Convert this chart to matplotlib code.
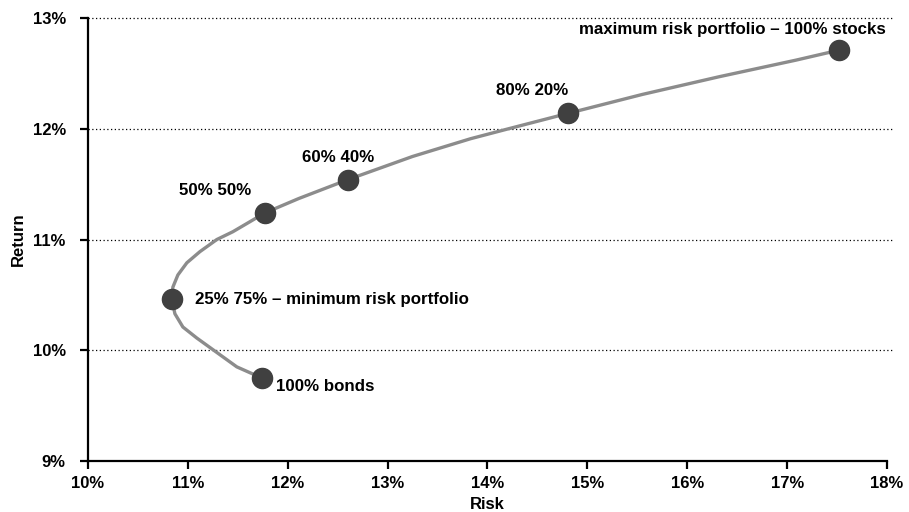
import matplotlib
matplotlib.use("Agg")
import matplotlib.pyplot as plt
from matplotlib.ticker import FuncFormatter

plt.rcParams["font.family"] = ["Liberation Sans", "DejaVu Sans"]
plt.rcParams["font.weight"] = "bold"

# efficient frontier curve (risk %, return %)
curve_risk = [11.74, 11.49, 11.29, 11.09, 10.95, 10.87, 10.84, 10.85, 10.90, 10.99, 11.12, 11.29,
              11.45, 11.62, 11.77, 12.11, 12.60, 13.25, 13.83, 14.21, 14.81, 15.55, 16.32,
              17.09, 17.52]
curve_ret = [9.75, 9.85, 9.98, 10.11, 10.21, 10.33, 10.46, 10.57, 10.68, 10.79, 10.89, 11.00,
             11.07, 11.16, 11.24, 11.37, 11.54, 11.75, 11.91, 12.00, 12.14, 12.31, 12.47,
             12.62, 12.71]

# labelled portfolios
pf_labels = ["100% bonds", "25% 75% \u2013 minimum risk portfolio", "50% 50%", "60% 40%",
             "80% 20%", "maximum risk portfolio \u2013 100% stocks"]
pf_risk = [11.74, 10.84, 11.77, 12.60, 14.81, 17.52]
pf_ret = [9.75, 10.46, 11.24, 11.54, 12.14, 12.71]

# label placement (offset in points, alignment)
offsets = [(10.5, -6), (16.5, 0), (-36, 16), (-7, 16), (-26, 16.5), (34, 14.5)]
aligns = ["left", "left", "center", "center", "center", "right"]

fig = plt.figure(figsize=(9.09, 5.12), dpi=100)
ax = fig.add_axes([0.0968, 0.0996, 0.879, 0.8652])

ax.set_xlim(10, 18)
ax.set_ylim(9, 13)
ax.set_xticks(range(10, 19))
ax.set_yticks(range(9, 14))
pct = FuncFormatter(lambda v, p: f"{v:.0f}%")
ax.xaxis.set_major_formatter(pct)
ax.yaxis.set_major_formatter(pct)

ax.hlines([10, 11, 12, 13], 10, 18.07, colors="black", linestyles=(0, (1, 2)),
          linewidth=0.9, zorder=1, clip_on=False)

ax.plot(curve_risk, curve_ret, color="#8c8c8c", linewidth=2.4, zorder=2,
        solid_capstyle="round", solid_joinstyle="round")
ax.plot(pf_risk, pf_ret, "o", color="#404040", markersize=14.5, zorder=3)

for lab, x, y, off, ha in zip(pf_labels, pf_risk, pf_ret, offsets, aligns):
    ax.annotate(lab, (x, y), xytext=off, textcoords="offset points", ha=ha, va="center",
                fontsize=12.2, fontweight="bold")

for s in ["top", "right"]:
    ax.spines[s].set_visible(False)
for s in ["left", "bottom"]:
    ax.spines[s].set_linewidth(1.6)
ax.tick_params(direction="out", length=6, width=1.6, labelsize=12)
ax.tick_params(axis="y", pad=10)
ax.tick_params(axis="x", pad=5)
for t in ax.get_xticklabels() + ax.get_yticklabels():
    t.set_fontweight("bold")

ax.set_xlabel("Risk", fontsize=12, fontweight="bold", labelpad=4)
ax.set_ylabel("Return", fontsize=12, fontweight="bold", labelpad=5)

fig.savefig("out.png", dpi=100)
